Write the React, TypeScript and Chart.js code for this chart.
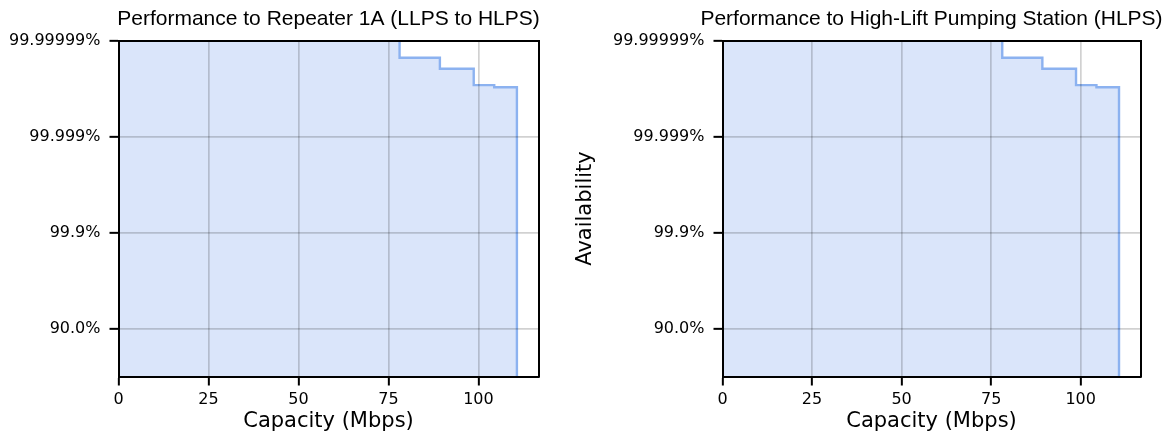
import React, { useEffect, useRef } from 'react';
import { Chart, registerables } from 'chart.js';

Chart.register(...registerables);

// ---- Data ----
const capacityMbps = [0, 78.1, 89.3, 98.7, 104.4, 110.7];
// availability expressed as "nines" = -log10(1 - availability)
const availabilityNines = [7, 6.64, 6.41, 6.07, 6.025, 0];

const xTicks = [0, 25, 50, 75, 100];
const yTickValues = [1, 3, 5, 7];
const yTickLabels = ['90.0%', '99.9%', '99.999%', '99.99999%'];

const chartTitles = [
  'Performance to Repeater 1A (LLPS to HLPS)',
  'Performance to High-Lift Pumping Station (HLPS)',
];
const xAxisTitle = 'Capacity (Mbps)';
const yAxisTitle = 'Availability';

const X_MAX = 116.7;
const Y_MIN = 0;
const Y_MAX = 7;

const LINE_COLOR = 'rgb(140,178,240)';
const FILL_COLOR = 'rgba(120,160,235,0.27)';
const GRID_COLOR = 'rgba(0,0,0,0.18)';
const TICK_FONT = { family: 'DejaVu Sans', size: 16 };
const AXIS_TITLE_FONT = { family: 'DejaVu Sans', size: 21 };

type PanelProps = {
  title: string;
  showYTitle: boolean;
  width: number;
  height: number;
  yAxisWidth: number;
  rightPad: number;
  left: number;
};

function makeConfig(p: PanelProps): any {
  return {
    type: 'line',
    data: {
      datasets: [
        {
          data: capacityMbps.map((x, i) => ({ x, y: availabilityNines[i] })),
          stepped: 'before',
          borderColor: LINE_COLOR,
          borderWidth: 2.4,
          backgroundColor: FILL_COLOR,
          fill: 'start',
          pointRadius: 0,
          tension: 0,
        },
      ],
    },
    options: {
      animation: false,
      responsive: false,
      devicePixelRatio: 1,
      layout: { padding: 0 },
      plugins: {
        legend: { display: false },
        tooltip: { enabled: false },
        title: {
          display: true,
          text: p.title,
          fullSize: true,
          color: '#000',
          font: { family: 'Liberation Sans', size: 21, weight: 'normal' },
          padding: { top: 6.7, bottom: 8.6 },
        },
      },
      scales: {
        x: {
          type: 'linear',
          position: 'bottom',
          min: 0,
          max: X_MAX,
          afterBuildTicks: (s: any) => {
            s.ticks = xTicks.map((v) => ({ value: v }));
          },
          afterFit: (s: any) => {
            s.height = 60.5;
          },
          ticks: {
            color: '#000',
            font: TICK_FONT,
            padding: 5,
            maxRotation: 0,
            autoSkip: false,
            callback: (v: any) => String(v),
          },
          grid: {
            color: GRID_COLOR,
            lineWidth: 1.7,
            z: 1,
            tickColor: '#000',
            tickLength: 9,
            tickWidth: 2,
          },
          border: { color: '#000', width: 2, z: 2 },
          title: {
            display: true,
            text: xAxisTitle,
            color: '#000',
            font: AXIS_TITLE_FONT,
            padding: { top: 0, bottom: 2.4 },
          },
        },
        y: {
          type: 'linear',
          position: 'left',
          min: Y_MIN,
          max: Y_MAX,
          afterBuildTicks: (s: any) => {
            s.ticks = yTickValues.map((v) => ({ value: v }));
          },
          afterFit: (s: any) => {
            s.width = p.yAxisWidth;
          },
          ticks: {
            color: '#000',
            font: TICK_FONT,
            padding: 9,
            autoSkip: false,
            callback: (v: any) => {
              const i = yTickValues.indexOf(Number(v));
              return i >= 0 ? yTickLabels[i] : '';
            },
          },
          grid: {
            color: GRID_COLOR,
            lineWidth: 1.7,
            z: 1,
            tickColor: '#000',
            tickLength: 9,
            tickWidth: 2,
          },
          border: { color: '#000', width: 2, z: 2 },
          title: {
            display: p.showYTitle,
            text: yAxisTitle,
            color: '#000',
            font: AXIS_TITLE_FONT,
            padding: { top: 13, bottom: 0 },
          },
        },
        xTop: {
          type: 'linear',
          position: 'top',
          min: 0,
          max: X_MAX,
          afterFit: (s: any) => {
            s.height = 0;
          },
          ticks: { display: false },
          grid: { display: false, drawTicks: false },
          border: { color: '#000', width: 2, z: 2 },
        },
        yRight: {
          type: 'linear',
          position: 'right',
          min: Y_MIN,
          max: Y_MAX,
          afterFit: (s: any) => {
            s.width = p.rightPad;
          },
          ticks: { display: false },
          grid: { display: false, drawTicks: false },
          border: { color: '#000', width: 2, z: 2 },
        },
      },
    },
  };
}

function Panel(p: PanelProps) {
  const ref = useRef<HTMLCanvasElement | null>(null);
  useEffect(() => {
    if (!ref.current) return;
    const chart = new Chart(ref.current, makeConfig(p));
    return () => chart.destroy();
  }, []);
  return (
    <canvas
      ref={ref}
      width={p.width}
      height={p.height}
      style={{ position: 'absolute', left: p.left, top: 0, width: p.width, height: p.height, display: 'block' }}
    />
  );
}

// Canvases are sized so that each plot area is centred in its canvas
// (the title is then centred over the plot); they overlap transparently.
export default function App() {
  return (
    <div
      style={{
        position: 'absolute',
        left: 0,
        top: 0,
        width: 1174,
        height: 437,
        overflow: 'hidden',
        background: '#fff',
      }}
    >
      <Panel title={chartTitles[0]} showYTitle={false} width={657} height={437} yAxisWidth={118.5} rightPad={118.5} left={0} />
      <Panel title={chartTitles[1]} showYTitle={true} width={743} height={437} yAxisWidth={162.5} rightPad={162.5} left={560} />
    </div>
  );
}
